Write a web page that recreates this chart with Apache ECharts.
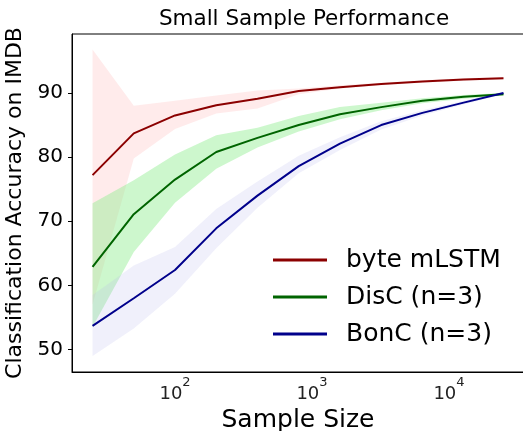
<!DOCTYPE html>
<html>
<head>
<meta charset="utf-8">
<script src="https://cdn.jsdelivr.net/npm/echarts@6/dist/echarts.min.js"></script>
<style>
  html, body { margin: 0; padding: 0; background: #fff; }
  #main { width: 523px; height: 431px; }
</style>
</head>
<body>
<div id="main"></div>
<script>
// Data
var sampleSizes = [25, 50, 100, 200, 400, 800, 1600, 3200, 6400, 12800, 25000];

var mlstmMean = [77.2, 83.7, 86.5, 88.1, 89.1, 90.3, 90.9, 91.4, 91.8, 92.1, 92.3];
var mlstmLow  = [57.0, 79.8, 84.4, 86.8, 87.6, 89.8, 90.7, 91.2, 91.6, 91.9, 92.1];
var mlstmHigh = [96.8, 88.0, 88.8, 89.6, 90.4, 90.7, 91.2, 91.6, 92.0, 92.3, 92.5];

var discMean = [62.9, 71.1, 76.5, 80.8, 83.0, 85.0, 86.7, 87.8, 88.8, 89.4, 89.8];
var discLow  = [53.5, 65.2, 72.9, 78.2, 81.5, 84.0, 85.9, 87.3, 88.4, 89.1, 89.6];
var discHigh = [72.8, 76.4, 80.4, 83.4, 84.6, 86.4, 87.8, 88.5, 89.2, 89.7, 90.0];

var boncMean = [53.7, 58.0, 62.4, 68.9, 74.0, 78.6, 82.1, 85.0, 86.9, 88.5, 90.0];
var boncLow  = [49.0, 53.3, 58.7, 65.8, 72.1, 77.5, 81.1, 84.3, 86.5, 88.2, 89.8];
var boncHigh = [58.5, 63.1, 66.0, 71.9, 76.2, 80.2, 83.1, 85.6, 87.3, 88.8, 90.2];

var xTicks = [100, 1000, 10000];
var yTicks = [50, 60, 70, 80, 90];

var myChart = echarts.init(document.getElementById('main'));

function pairs(ys) {
  return sampleSizes.map(function (x, i) { return [x, ys[i]]; });
}

// shaded min/max band drawn as one polygon through the axes' own scales
function band(low, high, fill) {
  return {
    type: 'custom', silent: true, z: 1, clip: true,
    data: [[sampleSizes[0], low[0]]],
    renderItem: function (params, api) {
      var pts = [], i;
      for (i = 0; i < sampleSizes.length; i++) {
        pts.push(api.coord([sampleSizes[i], high[i]]));
      }
      for (i = sampleSizes.length - 1; i >= 0; i--) {
        pts.push(api.coord([sampleSizes[i], low[i]]));
      }
      return { type: 'polygon', shape: { points: pts }, style: { fill: fill } };
    }
  };
}

function meanLine(name, ys, color) {
  return {
    name: name, type: 'line', data: pairs(ys), symbol: 'none', z: 3,
    itemStyle: { color: color },
    lineStyle: { color: color, width: 2 }
  };
}

var font = 'DejaVu Sans';

var option = {
  animation: false,
  title: {
    text: 'Small Sample Performance',
    left: 299, top: 3, textAlign: 'center',
    textStyle: { fontFamily: font, fontSize: 21.5, fontWeight: 'normal', color: '#000' }
  },
  grid: {
    left: 72, top: 34, right: -1, bottom: 59,
    outerBoundsMode: 'none', containLabel: false,
    show: true, borderColor: '#000', borderWidth: 1, backgroundColor: 'transparent'
  },
  legend: {
    data: ['byte mLSTM', 'DisC (n=3)', 'BonC (n=3)'],
    orient: 'vertical',
    left: 273, top: 247, padding: 0,
    icon: 'rect', itemWidth: 54, itemHeight: 3, itemGap: 11,
    textStyle: { fontFamily: font, fontSize: 25, color: '#000', lineHeight: 26, padding: [0, 0, 0, 14] }
  },
  xAxis: {
    type: 'log', logBase: 10,
    min: 17.7, max: 35300,
    name: 'Sample Size', nameLocation: 'middle', nameGap: 28,
    nameTextStyle: { fontFamily: font, fontSize: 25, color: '#000' },
    axisLine: { lineStyle: { color: '#000', width: 1 } },
    axisTick: { show: false },
    splitLine: { show: false },
    axisLabel: {
      customValues: xTicks,
      margin: 4,
      formatter: function (v) {
        return '{b|10}{s|' + Math.round(Math.log(v) / Math.LN10) + '}';
      },
      rich: {
        b: { fontFamily: font, fontSize: 18, color: '#222', verticalAlign: 'bottom', padding: [9, 0, 0, 0] },
        s: { fontFamily: font, fontSize: 13, color: '#222', verticalAlign: 'top' }
      }
    }
  },
  yAxis: {
    type: 'value',
    min: 46.5, max: 99.2,
    name: 'Classification Accuracy on IMDB', nameLocation: 'middle', nameGap: 42,
    nameTextStyle: { fontFamily: font, fontSize: 22, color: '#000' },
    axisLine: { show: true, lineStyle: { color: '#000', width: 1 } },
    axisTick: { show: true, customValues: yTicks, length: 4, lineStyle: { color: '#000' } },
    splitLine: { show: false },
    axisLabel: {
      customValues: yTicks, margin: 9,
      fontFamily: font, fontSize: 20, color: '#000'
    }
  },
  series: [
    band(mlstmLow, mlstmHigh, 'rgba(255,190,190,0.3)'),
    band(discLow, discHigh, 'rgba(144,238,144,0.45)'),
    band(boncLow, boncHigh, 'rgba(180,180,235,0.2)'),
    meanLine('byte mLSTM', mlstmMean, '#8b0000'),
    meanLine('DisC (n=3)', discMean, '#006400'),
    meanLine('BonC (n=3)', boncMean, '#00008b')
  ]
};

myChart.setOption(option);
</script>
</body>
</html>
